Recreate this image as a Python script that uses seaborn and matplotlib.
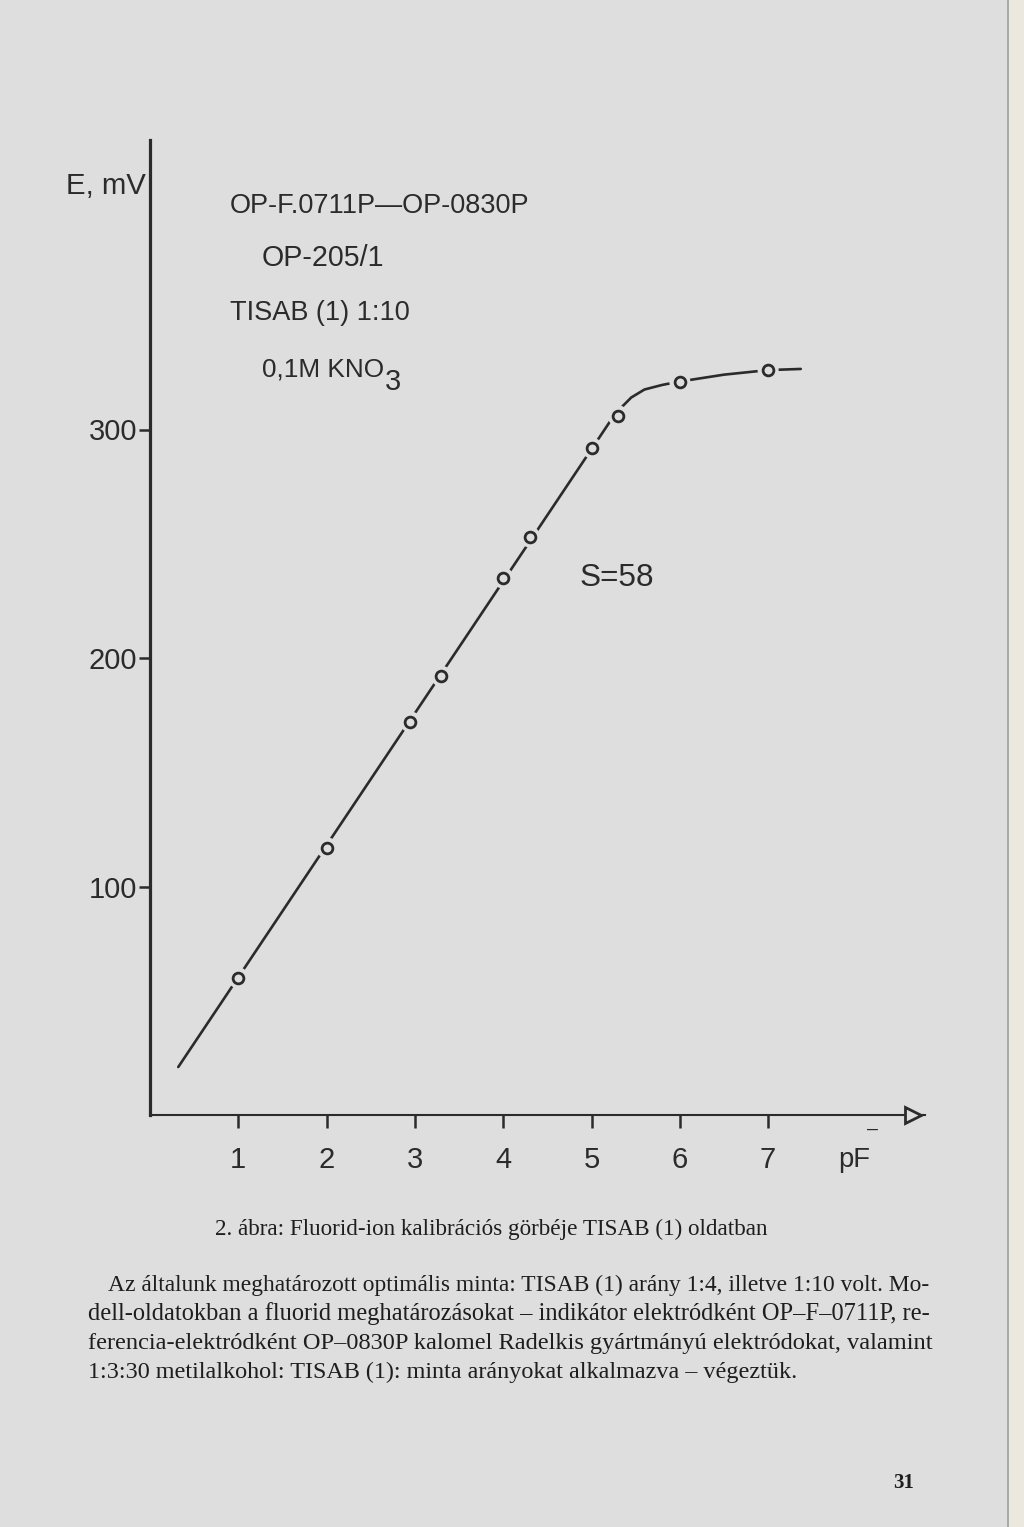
import matplotlib
matplotlib.use('Agg')
import matplotlib.pyplot as plt
import seaborn as sns
import pandas as pd
from matplotlib.patches import Rectangle

# ---- data ----
pf_values = [1.0, 2.0, 2.95, 3.3, 4.0, 4.3, 5.0, 5.3, 6.0, 7.0]
e_values = [60, 117, 172, 192, 235, 253, 292, 306, 321, 326]
curve_pf = [0.32, 5.27, 5.45, 5.6, 5.8, 6.0, 6.5, 7.0, 7.37]
curve_e = [21, 307, 314, 317.5, 319.5, 321, 324, 326, 326.5]
x_ticks = [1, 2, 3, 4, 5, 6, 7]
y_ticks = [100, 200, 300]

label_lines = ["OP-F.0711P\u2014OP-0830P", "OP-205/1", "TISAB (1) 1:10", "0,1M KNO"]
caption = "2. ábra: Fluorid-ion kalibrációs görbéje TISAB (1) oldatban"
body_lines = [
    "Az általunk meghatározott optimális minta: TISAB (1) arány 1:4, illetve 1:10 volt. Mo-",
    "dell-oldatokban a fluorid meghatározásokat \u2013 indikátor elektródként OP\u2013F\u20130711P, re-",
    "ferencia-elektródként OP\u20130830P kalomel Radelkis gyártmányú elektródokat, valamint",
    "1:3:30 metilalkohol: TISAB (1): minta arányokat alkalmazva \u2013 végeztük.",
]

BG = "#dddedd"
INK = "#2b2b2b"
W, H = 1024, 1527
SANS = ["Liberation Sans", "DejaVu Sans"]
SERIF = ["Liberation Serif", "DejaVu Serif"]

sns.set_theme(style="white", rc={"axes.facecolor": BG, "figure.facecolor": BG})
plt.rcParams["font.family"] = SANS

fig = plt.figure(figsize=(W / 100, H / 100), dpi=100)
fig.patch.set_facecolor(BG)
renderer = fig.canvas.get_renderer()

def fx(x):
    return x / W

def fy(y):
    return 1 - y / H

ax = fig.add_axes([fx(150), fy(1115), (925 - 150) / W, (1115 - 140) / H])
ax.set_facecolor(BG)

df_pts = pd.DataFrame({"pF": pf_values, "E": e_values})
df_curve = pd.DataFrame({"pF": curve_pf, "E": curve_e})

sns.lineplot(data=df_curve, x="pF", y="E", sort=False, color=INK, linewidth=1.9,
             ax=ax, zorder=2)
sns.scatterplot(data=df_pts, x="pF", y="E", s=230, color=BG, edgecolor="none",
                ax=ax, zorder=3)
sns.scatterplot(data=df_pts, x="pF", y="E", s=60, color=BG, edgecolor=INK,
                linewidth=2.0, ax=ax, zorder=4)

ax.set_xlim(0, (925 - 150) / 88.3)
ax.set_ylim(0, (1115 - 140) / 2.285)
ax.set_xticks(x_ticks)
ax.set_yticks(y_ticks)
ax.set_xlabel("")
ax.set_ylabel("")
for s in ["top", "right"]:
    ax.spines[s].set_visible(False)
ax.spines["left"].set_linewidth(2.3)
ax.spines["left"].set_color(INK)
ax.spines["bottom"].set_linewidth(1.5)
ax.spines["bottom"].set_color(INK)
ax.tick_params(axis="y", direction="out", length=8, width=1.8, pad=1,
               labelsize=21, colors=INK, left=True)
ax.tick_params(axis="x", direction="out", length=9, width=1.8, pad=13,
               labelsize=21, colors=INK, bottom=True)
ax.grid(False)
# arrow head at end of x axis
ax.plot([0.985], [0], transform=ax.transAxes, marker=">", ms=12, mfc=BG,
        mec=INK, mew=2, clip_on=False, zorder=5)


def fit_text(x, y, s, width, ha="left", va="center", family=SANS, color=INK,
             weight="normal"):
    t = fig.text(fx(x), fy(y), s, fontsize=14, ha=ha, va=va, family=family,
                 color=color, weight=weight)
    w = t.get_window_extent(renderer=renderer).width
    t.set_fontsize(14 * width / w)
    return t

fit_text(66, 186, "E, mV", 80)
fit_text(230, 206, label_lines[0], 300)
fit_text(262, 258, label_lines[1], 123)
fit_text(230, 313, label_lines[2], 180)
kno = fit_text(262, 370, label_lines[3], 123)
ext = kno.get_window_extent(renderer=renderer)
fig.text(ext.x1 / W + 1 / W, fy(382), "3", fontsize=kno.get_fontsize() * 1.1,
         va="center", ha="left", color=INK, family=SANS)
fit_text(580, 578, "S=58", 75)
pf = fit_text(838, 1160, "pF", 32)
fig.text(fx(867), fy(1129), "\u2013", fontsize=14, va="center", ha="left",
         color=INK, family=SANS)

# caption and body text
fit_text(491, 1235, caption, 557, ha="center", va="baseline", family=SERIF,
         color="#1e1e1e")
sizes = []
sizes.append(fit_text(108, 1291, body_lines[0], 935 - 108, va="baseline",
                      family=SERIF, color="#1e1e1e").get_fontsize())
sizes.append(fit_text(88, 1320, body_lines[1], 935 - 88, va="baseline",
                      family=SERIF, color="#1e1e1e").get_fontsize())
sizes.append(fit_text(88, 1349, body_lines[2], 935 - 88, va="baseline",
                      family=SERIF, color="#1e1e1e").get_fontsize())
fig.text(fx(88), fy(1378), body_lines[3], fontsize=sum(sizes) / len(sizes),
         ha="left", va="baseline", family=SERIF, color="#1e1e1e")
fig.text(fx(893), fy(1488), "31", fontsize=15, ha="left", va="baseline",
         family=SERIF, color="#1e1e1e", weight="bold")

# scanned page edge
fig.patches.append(Rectangle((fx(1009), 0), 1 - fx(1009), 1, transform=fig.transFigure,
                             facecolor="#ebe9de", edgecolor="none", zorder=0))
fig.patches.append(Rectangle((fx(1007), 0), 2 / W, 1, transform=fig.transFigure,
                             facecolor="#a9abab", edgecolor="none", zorder=0))

fig.savefig("out.png", dpi=100, facecolor=BG)
